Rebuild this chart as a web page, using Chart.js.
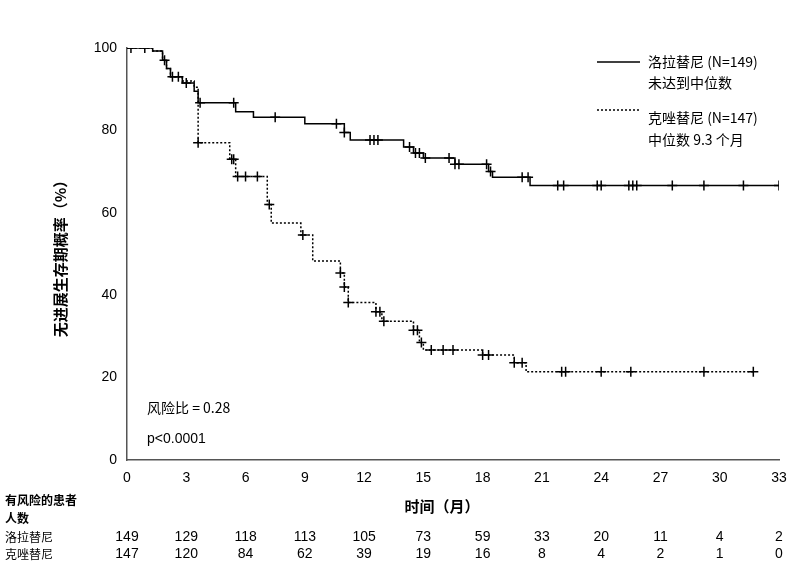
<!DOCTYPE html>
<html><head><meta charset="utf-8">
<script src="https://cdn.jsdelivr.net/npm/chart.js@4"></script>
<style>body{margin:0;background:#fff}#wrap{width:802px;height:566px;position:relative}</style>
</head><body><div id="wrap"><canvas id="c" width="802" height="566"></canvas></div>
<script>
const xTicks = [0, 3, 6, 9, 12, 15, 18, 21, 24, 27, 30, 33];
const lorStepT = [0, 1.3, 1.8, 2.0, 2.2, 2.8, 3.4, 3.6, 5.5, 6.4, 9.0, 11.0, 11.3, 14.0, 14.5, 15.0, 16.6, 18.3, 18.5, 20.4, 33.2];
const lorStepY = [100, 99.3, 97, 95, 93, 91.5, 89.5, 86.7, 84.5, 83.2, 81.6, 79.5, 77.7, 76, 74.5, 73.3, 71.8, 70, 68.6, 66.6, 66.6];
const crzStepT = [0, 1.3, 1.8, 2.0, 2.2, 2.8, 3.4, 3.6, 5.2, 5.5, 7.1, 7.3, 8.8, 9.4, 10.8, 11.0, 11.2, 12.6, 12.9, 14.5, 14.8, 15.0, 18.0, 19.6, 20.2, 31.7];
const crzStepY = [100, 99.3, 97, 95, 93, 92, 90.5, 77, 73, 68.8, 62, 57.5, 54.6, 48.3, 45.4, 42, 38.2, 36, 33.7, 31.5, 28.5, 26.7, 25.5, 23.6, 21.4, 21.4];
const lorCensor = [0.2, 0.9, 1.9, 2.3, 2.6, 3.0, 3.7, 5.4, 7.5, 10.6, 11.0, 12.3, 12.5, 12.7, 14.3, 14.6, 14.8, 15.1, 16.3, 16.6, 16.8, 18.2, 18.4, 20.0, 20.3, 21.8, 22.1, 23.8, 24.0, 25.4, 25.6, 25.8, 27.6, 29.2, 31.2, 33.0];
const crzCensor = [3.6, 5.3, 5.4, 5.6, 6.0, 6.6, 7.2, 8.9, 10.8, 11.0, 11.2, 12.6, 12.8, 13.0, 14.5, 14.7, 14.9, 15.4, 16.0, 16.5, 18.0, 18.3, 19.6, 20.0, 22.0, 22.2, 24.0, 25.5, 29.2, 31.7];
const riskLor = [149, 129, 118, 113, 105, 73, 59, 33, 20, 11, 4, 2];
const riskCrz = [147, 120, 84, 62, 39, 19, 16, 8, 4, 2, 1, 0];

const CJK = '"Noto Sans CJK SC", sans-serif';
const steps = (t, y) => t.map((v, i) => ({x: v, y: y[i]}));
function valAt(t, y, x) { let v = y[0]; for (let i = 0; i < t.length; i++) if (t[i] <= x) v = y[i]; return v; }
const cens = (c, t, y) => c.map(x => ({x: x, y: valAt(t, y, x)}));

const extras = {
  id: 'extras',
  afterDraw(chart) {
    const ctx = chart.ctx, xs = chart.scales.x;
    ctx.save();
    ctx.fillStyle = '#000'; ctx.strokeStyle = '#000';
    // legend
    ctx.lineWidth = 1.5; ctx.setLineDash([]);
    ctx.beginPath(); ctx.moveTo(597, 62); ctx.lineTo(640, 62); ctx.stroke();
    ctx.setLineDash([2, 2]);
    ctx.beginPath(); ctx.moveTo(597, 110); ctx.lineTo(640, 110); ctx.stroke();
    ctx.setLineDash([]);
    ctx.textAlign = 'left'; ctx.textBaseline = 'middle';
    ctx.font = '14px ' + CJK;
    ctx.fillText('洛拉替尼 (N=149)', 648, 62);
    ctx.fillText('未达到中位数', 648, 83);
    ctx.fillText('克唑替尼 (N=147)', 648, 118);
    ctx.fillText('中位数 9.3 个月', 648, 140);
    ctx.fillText('风险比 = 0.28', 147, 408);
    ctx.font = '14px "Liberation Sans", sans-serif';
    ctx.fillText('p<0.0001', 147, 439);
    // axis titles
    ctx.font = 'bold 15px ' + CJK; ctx.textAlign = 'center';
    ctx.fillText('时间（月）', 442, 506);
    ctx.save(); ctx.translate(60, 255); ctx.rotate(-Math.PI / 2);
    ctx.fillText('无进展生存期概率（%）', 0, 0); ctx.restore();
    // risk table
    ctx.textAlign = 'left'; ctx.font = 'bold 12px ' + CJK;
    ctx.fillText('有风险的患者', 5, 500); ctx.fillText('人数', 5, 518);
    ctx.font = '12px ' + CJK;
    ctx.fillText('洛拉替尼', 5, 537); ctx.fillText('克唑替尼', 5, 554);
    ctx.textAlign = 'center'; ctx.font = '14px "Liberation Sans", sans-serif';
    xTicks.forEach((t, i) => {
      const px = xs.getPixelForValue(t);
      ctx.fillText(String(riskLor[i]), px, 537);
      ctx.fillText(String(riskCrz[i]), px, 554);
    });
    ctx.restore();
  }
};

new Chart(document.getElementById('c'), {
  type: 'line',
  data: { datasets: [
    { data: steps(lorStepT, lorStepY), stepped: 'before', borderColor: '#000', borderWidth: 1.5, pointRadius: 0, fill: false },
    { data: steps(crzStepT, crzStepY), stepped: 'before', borderColor: '#000', borderWidth: 1.5, borderDash: [2, 2], pointRadius: 0, fill: false },
    { data: cens(lorCensor, lorStepT, lorStepY), showLine: false, pointStyle: 'cross', pointRadius: 5, borderColor: '#000', borderWidth: 1.5 },
    { data: cens(crzCensor, crzStepT, crzStepY), showLine: false, pointStyle: 'cross', pointRadius: 5, borderColor: '#000', borderWidth: 1.5 }
  ]},
  options: {
    responsive: false, animation: false,
    layout: { padding: { top: 48, right: 23, left: 0, bottom: 0 } },
    plugins: { legend: { display: false }, tooltip: { enabled: false } },
    scales: {
      x: { type: 'linear', min: 0, max: 33,
        afterBuildTicks: s => { s.ticks = xTicks.map(v => ({value: v})); },
        afterFit: s => { s.height = 106; },
        grid: { display: false, drawTicks: true, tickLength: 6 },
        border: { color: '#555', width: 1.5 },
        ticks: { color: '#000', font: { size: 14, family: '"Liberation Sans", sans-serif' }, padding: 4 } },
      y: { min: 0, max: 100,
        afterBuildTicks: s => { s.ticks = [0, 20, 40, 60, 80, 100].map(v => ({value: v})); },
        afterFit: s => { s.width = 127; },
        grid: { display: false, drawTicks: true, tickLength: 6 },
        border: { color: '#555', width: 1.5 },
        ticks: { color: '#000', font: { size: 14, family: '"Liberation Sans", sans-serif' }, padding: 4 } }
    }
  },
  plugins: [extras]
});
</script></body></html>
